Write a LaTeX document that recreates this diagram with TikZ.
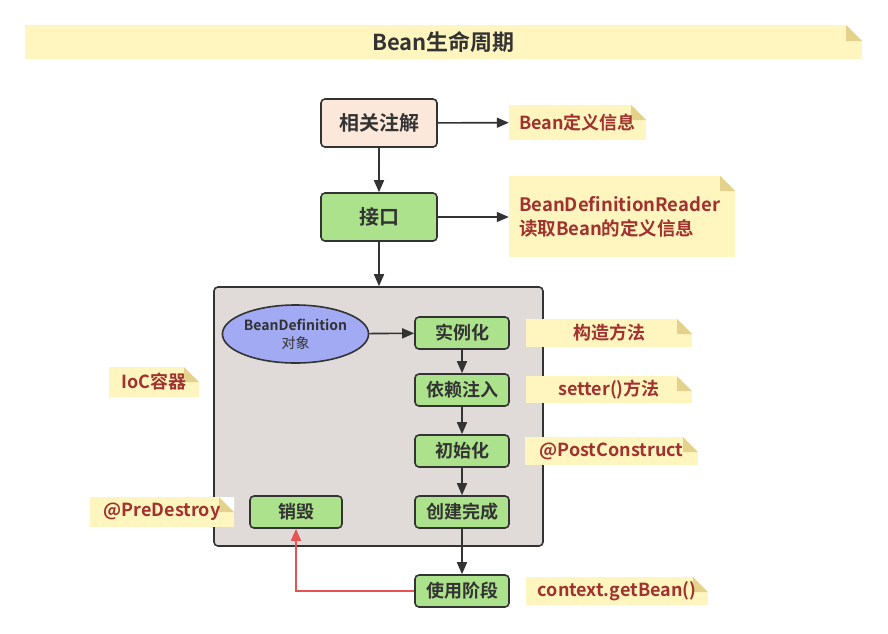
\documentclass[tikz,border=0pt]{standalone}
\usepackage{fontspec}
\setmainfont{Noto Sans CJK SC}[BoldFont={Noto Sans CJK SC Bold}]
\usetikzlibrary{arrows.meta,shapes.geometric}
\definecolor{dk}{RGB}{51,51,51}
\definecolor{greenF}{RGB}{172,226,140}
\definecolor{peachF}{RGB}{252,232,218}
\definecolor{noteY}{RGB}{255,246,191}
\definecolor{foldC}{RGB}{228,210,140}
\definecolor{nred}{RGB}{160,50,48}
\definecolor{contF}{RGB}{224,219,217}
\definecolor{ellF}{RGB}{161,170,242}
\definecolor{redL}{RGB}{232,82,82}
\tikzset{
  fs/.style={font=\bfseries\fontsize{#1}{#1}\selectfont},
  notebox/.style={fill=noteY, inner sep=0pt, text=nred, fs=18,
    path picture={
      \fill[white] ([xshift=-#1]path picture bounding box.north east) -- (path picture bounding box.north east) -- ([yshift=-#1]path picture bounding box.north east) -- cycle;
      \fill[foldC] ([xshift=-#1]path picture bounding box.north east) -- ([xshift=-#1,yshift=-#1]path picture bounding box.north east) -- ([yshift=-#1]path picture bounding box.north east) -- cycle;
    }},
  notebox/.default=15pt,
  stepbox/.style={draw=dk, line width=1.6pt, rounded corners=4pt, fill=greenF, text=dk, fs=18, inner sep=0pt},
  arr/.style={draw=dk, line width=1.6pt, -{Triangle[length=12pt,width=10pt]}},
}
\begin{document}
\begin{tikzpicture}[x=1pt,y=-1pt]
\useasboundingbox (0,0) rectangle (888,633);
% title
\node[notebox=16pt, text=dk, fs=22, minimum width=837pt, minimum height=34pt] (title) at (443.5,42) {Bean生命周期};
% container
\node[draw=dk, line width=1.6pt, rounded corners=4pt, fill=contF, minimum width=329pt, minimum height=259pt, inner sep=0pt] (cont) at (378.5,416.5) {};
% top boxes
\node[stepbox, fill=peachF, fs=20, minimum width=116pt, minimum height=48pt] (anno) at (379,123) {相关注解};
\node[stepbox, fs=20, minimum width=116pt, minimum height=48pt] (iface) at (379,217) {接口};
\node[notebox, minimum width=137pt, minimum height=35pt] (n1) at (577.5,122.5) {Bean定义信息};
\node[notebox, text width=206pt, inner xsep=10pt, minimum height=81pt, align=left, font=\bfseries\fontsize{18.5}{24}\selectfont] (n2) at (622,216.5) {BeanDefinitionReader\\读取Bean的定义信息};
% ellipse
\node[ellipse, draw=dk, line width=1.6pt, fill=ellF, minimum width=133pt, minimum height=58pt, inner sep=0pt, align=center, text=dk, font=\fontsize{14}{18}\selectfont] (bd) at (295.5,334) {\textbf{BeanDefinition}\\对象};
% steps
\node[stepbox, minimum width=94pt, minimum height=32pt] (inst) at (462,333) {实例化};
\node[stepbox, minimum width=94pt, minimum height=32pt] (di) at (462,390) {依赖注入};
\node[stepbox, minimum width=94pt, minimum height=32pt] (init) at (462,451) {初始化};
\node[stepbox, minimum width=94pt, minimum height=32pt] (done) at (462,512) {创建完成};
\node[stepbox, minimum width=92pt, minimum height=32pt] (destroy) at (296,512) {销毁};
\node[stepbox, minimum width=94pt, minimum height=32pt] (use) at (462,591) {使用阶段};
% notes
\node[notebox, minimum width=166pt, minimum height=28pt] (n3) at (609,333) {构造方法};
\node[notebox, minimum width=166pt, minimum height=27pt] (n4) at (609,389.5) {setter()方法};
\node[notebox, minimum width=173pt, minimum height=28pt] (n5) at (611.5,451) {@PostConstruct};
\node[notebox, minimum width=144pt, minimum height=30pt] (n6) at (162,512) {@PreDestroy};
\node[notebox, minimum width=90pt, minimum height=30pt] (n7) at (154,382) {IoC容器};
\node[notebox, minimum width=182pt, minimum height=28pt] (n8) at (617,591) {context.getBean()};
% arrows
\draw[arr] (anno) -- (n1);
\draw[arr] (iface.east) -- (iface.east -| n2.west);
\draw[arr] (anno) -- (iface);
\draw[arr] (iface.south) -- (iface.south |- cont.north);
\draw[arr] (bd) -- (inst);
\draw[arr] (inst) -- (di);
\draw[arr] (di) -- (init);
\draw[arr] (init) -- (done);
\draw[arr] (done) -- (use);
\draw[draw=redL, line width=1.6pt, -{Triangle[length=12pt,width=10pt]}] (use.west) -- (use.west -| destroy.south) -- (destroy.south);
\end{tikzpicture}
\end{document}
